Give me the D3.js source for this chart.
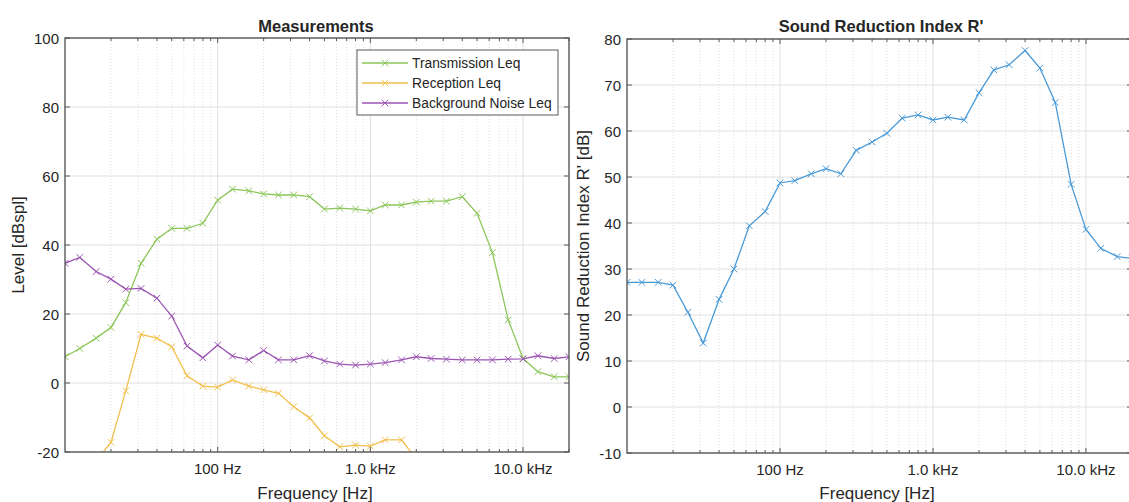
<!DOCTYPE html>
<meta charset="utf-8">
<script src="https://d3js.org/d3.v7.min.js"></script>
<style>
  body { margin: 0; background: #fff; }
  svg text { font-family: "Liberation Sans", Arial, sans-serif; fill: #262626; }
</style>
<body>
<div id="chart"></div>
<script>
// 1/3 octave band centre frequencies
var freqs = [10, 12.5, 16, 20, 25, 31.5, 40, 50, 63, 80, 100, 125, 160, 200, 250, 315, 400, 500,
             630, 800, 1000, 1250, 1600, 2000, 2500, 3150, 4000, 5000, 6300, 8000, 10000, 12500, 16000, 20000];

var transmission = [7.6, 10, 13, 16.1, 23.3, 34.7, 41.7, 44.8, 44.8, 46.3, 53, 56.2, 55.7, 54.8, 54.5, 54.5, 54,
                    50.4, 50.7, 50.4, 49.9, 51.6, 51.6, 52.4, 52.7, 52.7, 54, 49.2, 37.8, 18.3, 7.1, 3.3, 1.8, 1.8];
// reception starts at 16 Hz and ends at 2 kHz (rest is below the axis)
var receptionFreqs = [16, 20, 25, 31.5, 40, 50, 63, 80, 100, 125, 160, 200, 250, 315, 400, 500, 630, 800, 1000, 1250, 1600, 2000];
var reception = [-22.5, -17.2, -2.3, 14.1, 13, 10.5, 2.1, -0.9, -1.2, 0.9, -0.9, -2, -3, -6.9, -10.1, -15.3,
                 -18.5, -18, -18.3, -16.5, -16.5, -22];
var background = [34.7, 36.4, 32.3, 30.1, 27.2, 27.4, 24.6, 19.4, 10.7, 7.3, 11, 7.8, 6.7, 9.4, 6.7, 6.7, 7.9,
                  6.4, 5.5, 5.2, 5.5, 5.9, 6.7, 7.6, 7.1, 6.9, 6.7, 6.7, 6.7, 6.9, 7.0, 7.9, 7.1, 7.6];
var reduction = [27.1, 27.1, 27.1, 26.5, 20.6, 13.9, 23.4, 30, 39.4, 42.5, 48.7, 49.2, 50.7, 51.8, 50.7, 55.8, 57.6,
                 59.5, 62.8, 63.5, 62.4, 63, 62.4, 68.3, 73.3, 74.4, 77.5, 73.7, 66.2, 48.4, 38.6, 34.5, 32.7, 32.3];

var leftTicks = [-20, 0, 20, 40, 60, 80, 100];
var rightTicks = [-10, 0, 10, 20, 30, 40, 50, 60, 70, 80];
var freqTicks = [100, 1000, 10000];
var freqTickLabels = ["100 Hz", "1.0 kHz", "10.0 kHz"];

var W = 1129, H = 502;
var svg = d3.select("#chart").append("svg").attr("width", W).attr("height", H);

// minor grid frequencies 20..90, 200..900, ... up to 20k
var minorFreqs = [];
[10, 100, 1000, 10000].forEach(function(dec) {
  for (var k = 2; k <= 9; k++) if (dec * k <= 20000) minorFreqs.push(dec * k);
});

function drawPanel(o) {
  var x = d3.scaleLog().domain([10, 20000]).range([o.left, o.right]);
  var y = d3.scaleLinear().domain(o.yDomain).range([o.bottom, o.top]);
  var g = svg.append("g");
  var clipId = "clip" + o.id;
  svg.append("clipPath").attr("id", clipId).append("rect")
    .attr("x", o.left).attr("y", o.top).attr("width", o.right - o.left).attr("height", o.bottom - o.top);

  // grid
  g.selectAll(".vminor").data(minorFreqs).enter().append("line")
    .attr("x1", d => x(d)).attr("x2", d => x(d)).attr("y1", o.top).attr("y2", o.bottom)
    .attr("stroke", "#d8d8d8").attr("stroke-width", 0.8).attr("stroke-dasharray", "1,2");
  g.selectAll(".vmajor").data(freqTicks).enter().append("line")
    .attr("x1", d => x(d)).attr("x2", d => x(d)).attr("y1", o.top).attr("y2", o.bottom)
    .attr("stroke", "#e0e0e0").attr("stroke-width", 1);
  g.selectAll(".hmajor").data(o.yTicks).enter().append("line")
    .attr("x1", o.left).attr("x2", o.right).attr("y1", d => y(d)).attr("y2", d => y(d))
    .attr("stroke", "#e0e0e0").attr("stroke-width", 1);

  // series
  var lines = g.append("g").attr("clip-path", "url(#" + clipId + ")");
  o.series.forEach(function(s) {
    var pts = s.f.map((f, i) => [f, s.v[i]]);
    lines.append("path").datum(pts)
      .attr("fill", "none").attr("stroke", s.color).attr("stroke-width", 1.3)
      .attr("d", d3.line().x(d => x(d[0])).y(d => y(d[1])));
    var m = 3.3;
    lines.selectAll(null).data(pts).enter().append("path")
      .attr("d", d => {
        var cx = x(d[0]), cy = y(d[1]);
        return "M" + (cx - m) + "," + (cy - m) + "L" + (cx + m) + "," + (cy + m) +
               "M" + (cx - m) + "," + (cy + m) + "L" + (cx + m) + "," + (cy - m);
      })
      .attr("stroke", s.color).attr("stroke-width", 1).attr("fill", "none");
  });

  // frame
  var axisColor = "#595959";
  g.append("rect").attr("x", o.left).attr("y", o.top).attr("width", o.right - o.left).attr("height", o.bottom - o.top)
    .attr("fill", "none").attr("stroke", axisColor).attr("stroke-width", 1.4);

  // inward ticks
  var tk = g.append("g").attr("stroke", axisColor).attr("stroke-width", 1);
  minorFreqs.forEach(function(f) {
    tk.append("line").attr("x1", x(f)).attr("x2", x(f)).attr("y1", o.bottom).attr("y2", o.bottom - 3);
    tk.append("line").attr("x1", x(f)).attr("x2", x(f)).attr("y1", o.top).attr("y2", o.top + 3);
  });
  freqTicks.forEach(function(f) {
    tk.append("line").attr("x1", x(f)).attr("x2", x(f)).attr("y1", o.bottom).attr("y2", o.bottom - 5);
    tk.append("line").attr("x1", x(f)).attr("x2", x(f)).attr("y1", o.top).attr("y2", o.top + 5);
  });
  o.yTicks.forEach(function(v) {
    tk.append("line").attr("x1", o.left).attr("x2", o.left + 5).attr("y1", y(v)).attr("y2", y(v));
    tk.append("line").attr("x1", o.right).attr("x2", o.right - 5).attr("y1", y(v)).attr("y2", y(v));
  });

  // tick labels
  g.selectAll(".xl").data(freqTicks).enter().append("text")
    .attr("x", d => x(d)).attr("y", o.bottom + 22).attr("text-anchor", "middle")
    .style("font-size", "15px").text((d, i) => freqTickLabels[i]);
  g.selectAll(".yl").data(o.yTicks).enter().append("text")
    .attr("x", o.left - 6).attr("y", d => y(d) + 5.5).attr("text-anchor", "end")
    .style("font-size", "15px").text(d => d);

  // labels
  g.append("text").attr("x", o.titleX).attr("y", 32).attr("text-anchor", "middle")
    .style("font-size", "16.5px").style("font-weight", "bold").text(o.title);
  g.append("text").attr("x", o.xLabelX).attr("y", 499).attr("text-anchor", "middle")
    .style("font-size", "17px").text("Frequency [Hz]");
  g.append("text").attr("transform", "translate(" + o.yLabelX + "," + ((o.top + o.bottom) / 2) + ") rotate(-90)")
    .attr("text-anchor", "middle").style("font-size", "17px").text(o.yLabel);

  return {x: x, y: y, g: g};
}

var left = drawPanel({
  id: "L", left: 65, right: 569, top: 38, bottom: 452, yDomain: [-20, 100], yTicks: leftTicks,
  title: "Measurements", titleX: 316, xLabelX: 315, yLabel: "Level [dBspl]", yLabelX: 24,
  series: [
    {f: freqs, v: transmission, color: "#8cc65a"},
    {f: receptionFreqs, v: reception, color: "#f3bf4c"},
    {f: freqs, v: background, color: "#9b55b3"}
  ]
});

var right = drawPanel({
  id: "R", left: 627, right: 1132, top: 39, bottom: 453, yDomain: [-10, 80], yTicks: rightTicks,
  title: "Sound Reduction Index R'", titleX: 881, xLabelX: 877, yLabel: "Sound Reduction Index R' [dB]", yLabelX: 589,
  series: [
    {f: freqs, v: reduction, color: "#4a9ad8"}
  ]
});

// legend
var legendItems = [
  {name: "Transmission Leq", color: "#8cc65a"},
  {name: "Reception Leq", color: "#f3bf4c"},
  {name: "Background Noise Leq", color: "#9b55b3"}
];
var lg = svg.append("g");
lg.append("rect").attr("x", 357).attr("y", 50).attr("width", 201).attr("height", 65)
  .attr("fill", "#fff").attr("stroke", "#595959").attr("stroke-width", 1);
legendItems.forEach(function(d, i) {
  var yy = 63 + i * 20;
  lg.append("line").attr("x1", 362).attr("x2", 408).attr("y1", yy).attr("y2", yy)
    .attr("stroke", d.color).attr("stroke-width", 1.3);
  var m = 3.3, cx = 385;
  lg.append("path").attr("d", "M" + (cx - m) + "," + (yy - m) + "L" + (cx + m) + "," + (yy + m) +
      "M" + (cx - m) + "," + (yy + m) + "L" + (cx + m) + "," + (yy - m))
    .attr("stroke", d.color).attr("stroke-width", 1);
  lg.append("text").attr("x", 412).attr("y", yy + 5).style("font-size", "13.8px").text(d.name);
});
</script>
</body>
